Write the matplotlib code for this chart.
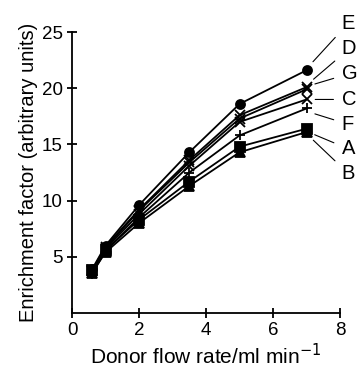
import matplotlib
matplotlib.use("Agg")
import matplotlib.pyplot as plt

plt.rcParams['font.family'] = ['Liberation Sans', 'DejaVu Sans']

flow = [0.6, 1.0, 2.0, 3.5, 5.0, 7.0]
series_names = ['E', 'D', 'G', 'C', 'F', 'A', 'B']
E = [3.9, 6.0, 9.6, 14.3, 18.6, 21.6]
D = [3.8, 5.9, 9.2, 13.6, 17.6, 20.1]
G = [3.7, 5.8, 9.1, 13.4, 17.3, 19.9]
C = [3.7, 5.7, 8.8, 13.1, 17.0, 19.0]
F = [3.5, 5.5, 8.5, 12.5, 15.8, 18.2]
A = [3.8, 5.6, 8.3, 11.7, 14.8, 16.4]
B = [3.6, 5.4, 8.0, 11.3, 14.3, 16.1]
values = {'E': E, 'D': D, 'G': G, 'C': C, 'F': F, 'A': A, 'B': B}
markers = {'E': 'o', 'D': 'x', 'G': 'x', 'C': 'x', 'F': '+', 'A': 's', 'B': '^'}
# label text positions (data coords) for the series labels on the right
label_y = {'E': 25.8, 'D': 23.5, 'G': 21.3, 'C': 19.0, 'F': 16.8, 'A': 14.6, 'B': 12.4}
label_x = 8.05

fig = plt.figure(figsize=(3.57, 3.70), dpi=100)
ax = fig.add_axes([0.2017, 0.154, 0.751, 0.7595])

for name in series_names:
    y = values[name]
    ax.plot(flow, y, color='black', lw=1.3, marker=markers[name],
            markersize=6.5, markeredgewidth=1.3, clip_on=False, zorder=3)
    off = 0.3 if name in 'EDG' else (-0.3 if name in 'FAB' else 0)
    ax.annotate(name, xy=(flow[-1] + 0.05, y[-1] + off),
                xytext=(label_x, label_y[name]), textcoords='data',
                fontsize=14.5, va='center', ha='left', annotation_clip=False,
                arrowprops=dict(arrowstyle='-', color='black', lw=0.8,
                                shrinkA=4, shrinkB=5))

ax.set_xlim(0, 8)
ax.set_ylim(0, 25)
ax.set_xticks([0, 2, 4, 6, 8])
ax.set_yticks([5, 10, 15, 20, 25])
ax.spines['top'].set_visible(False)
ax.spines['right'].set_visible(False)
for s in ('left', 'bottom'):
    ax.spines[s].set_linewidth(1.3)
ax.tick_params(direction='inout', length=7, width=1.3, labelsize=13.5, pad=3)
ax.set_xlabel('Donor flow rate/ml min$^{-1}$', fontsize=15, labelpad=3)
ax.set_ylabel('Enrichment factor (arbitrary units)', fontsize=14.5, labelpad=3)

fig.savefig('out.png', dpi=100)
